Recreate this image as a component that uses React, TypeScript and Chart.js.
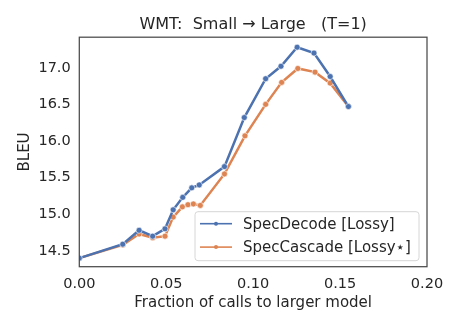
import React, { useEffect, useRef } from "react";
import { Chart, registerables } from "chart.js";

Chart.register(...registerables);

const TITLE = "WMT:  Small \u2192 Large   (T=1)";
const X_LABEL = "Fraction of calls to larger model";
const Y_LABEL = "BLEU";

const SERIES_NAMES = ["SpecDecode [Lossy]", "SpecCascade [Lossy\u22c6]"];

const decodeX = [0, 0.025, 0.0344, 0.0422, 0.0493, 0.054, 0.0595, 0.0647, 0.069, 0.0835, 0.0949, 0.1072, 0.116, 0.1253, 0.135, 0.1443, 0.1548];
const decodeY = [14.4, 14.59, 14.78, 14.7, 14.8, 15.06, 15.23, 15.36, 15.4, 15.65, 16.32, 16.85, 17.02, 17.28, 17.2, 16.88, 16.47];

const cascadeX = [0, 0.025, 0.0344, 0.0422, 0.0493, 0.054, 0.0593, 0.0625, 0.0656, 0.0696, 0.0835, 0.0953, 0.1072, 0.1164, 0.1257, 0.1356, 0.1443, 0.1548];
const cascadeY = [14.4, 14.58, 14.73, 14.68, 14.7, 14.96, 15.1, 15.13, 15.14, 15.12, 15.55, 16.07, 16.5, 16.8, 16.99, 16.94, 16.79, 16.47];

const xTicks = [0, 0.05, 0.1, 0.15, 0.2];
const yTicks = [14.5, 15.0, 15.5, 16.0, 16.5, 17.0];

const COLORS = ["#4C72B0", "#DD8452"];
const FONT = "DejaVu Sans";
const TEXT = "#262626";

const framePlugin = {
  id: "frame",
  afterDatasetsDraw(chart: any) {
    const { ctx, chartArea: a } = chart;
    ctx.save();
    ctx.strokeStyle = "#4a4a4a";
    ctx.lineWidth = 1.25;
    ctx.strokeRect(a.left, a.top, a.right - a.left, a.bottom - a.top);
    ctx.restore();
  },
};

const legendPlugin = {
  id: "insideLegend",
  afterDraw(chart: any) {
    const { ctx, chartArea: a } = chart;
    const boxRight = a.right - 8;
    const boxBottom = a.bottom - 6;
    const boxW = 224;
    const boxH = 49;
    const x0 = boxRight - boxW;
    const y0 = boxBottom - boxH;
    ctx.save();
    ctx.beginPath();
    const r = 3;
    ctx.moveTo(x0 + r, y0);
    ctx.arcTo(x0 + boxW, y0, x0 + boxW, y0 + boxH, r);
    ctx.arcTo(x0 + boxW, y0 + boxH, x0, y0 + boxH, r);
    ctx.arcTo(x0, y0 + boxH, x0, y0, r);
    ctx.arcTo(x0, y0, x0 + boxW, y0, r);
    ctx.closePath();
    ctx.fillStyle = "rgba(255,255,255,0.8)";
    ctx.fill();
    ctx.strokeStyle = "#d6d6d6";
    ctx.lineWidth = 1;
    ctx.stroke();
    ctx.font = `15px '${FONT}'`;
    ctx.textBaseline = "middle";
    ctx.fillStyle = TEXT;
    chart.data.datasets.forEach((ds: any, i: number) => {
      const cy = y0 + 12 + i * 23.4;
      ctx.strokeStyle = ds.borderColor;
      ctx.lineWidth = 1.6;
      ctx.beginPath();
      ctx.moveTo(x0 + 5, cy);
      ctx.lineTo(x0 + 37, cy);
      ctx.stroke();
      ctx.beginPath();
      ctx.fillStyle = ds.borderColor;
      ctx.arc(x0 + 21, cy, 2, 0, Math.PI * 2);
      ctx.fill();
      ctx.fillStyle = TEXT;
      ctx.fillText(ds.label, x0 + 48, cy + 1);
    });
    ctx.restore();
  },
};

export default function App() {
  const ref = useRef<HTMLCanvasElement>(null);
  useEffect(() => {
    const mk = (xs: number[], ys: number[]) => xs.map((x, i) => ({ x, y: ys[i] }));
    const chart = new Chart(ref.current!, {
      type: "line",
      data: {
        datasets: [
          { label: SERIES_NAMES[0], data: mk(decodeX, decodeY), borderColor: COLORS[0], backgroundColor: COLORS[0] },
          { label: SERIES_NAMES[1], data: mk(cascadeX, cascadeY), borderColor: COLORS[1], backgroundColor: COLORS[1] },
        ].map((d) => ({
          ...d,
          borderWidth: 2.5,
          pointRadius: 3,
          pointBorderColor: "#ffffff",
          pointBorderWidth: 0.6,
          pointBackgroundColor: d.borderColor,
          tension: 0,
          fill: false,
        })),
      },
      options: {
        animation: false,
        responsive: false,
        maintainAspectRatio: false,
        layout: { padding: { left: 0, right: 35, top: 0, bottom: 0 } },
        plugins: {
          legend: { display: false },
          tooltip: { enabled: false },
          title: {
            display: true,
            fullSize: false,
            text: TITLE,
            color: TEXT,
            font: { family: FONT, size: 16, weight: "normal" },
            padding: { top: 15, bottom: 3 },
          },
        },
        scales: {
          x: {
            type: "linear",
            min: 0,
            max: 0.2,
            grid: { display: false, drawTicks: false },
            border: { display: false },
            afterBuildTicks: (s: any) => {
              s.ticks = xTicks.map((v) => ({ value: v }));
            },
            afterFit: (s: any) => {
              s.height = 63.3;
            },
            ticks: {
              color: TEXT,
              padding: 9,
              font: { family: FONT, size: 14.5 },
              callback: (v: any) => Number(v).toFixed(2),
            },
            title: {
              display: true,
              text: X_LABEL,
              color: TEXT,
              font: { family: FONT, size: 15 },
              padding: { top: 0, bottom: 18 },
            },
          },
          y: {
            type: "linear",
            min: 14.283,
            max: 17.417,
            grid: { display: false, drawTicks: false },
            border: { display: false },
            afterBuildTicks: (s: any) => {
              s.ticks = yTicks.map((v) => ({ value: v }));
            },
            afterFit: (s: any) => {
              s.width = 79.3;
            },
            ticks: {
              color: TEXT,
              padding: 8.6,
              font: { family: FONT, size: 14.5 },
              callback: (v: any) => Number(v).toFixed(1),
            },
            title: {
              display: true,
              text: Y_LABEL,
              color: TEXT,
              font: { family: FONT, size: 15 },
              padding: { top: 16, bottom: 0 },
            },
          },
        },
      },
      plugins: [framePlugin, legendPlugin],
    });
    return () => chart.destroy();
  }, []);
  return (
    <div style={{ position: "fixed", left: 0, top: 0, width: 462, height: 330, background: "#fff" }}>
      <canvas ref={ref} width={462} height={330} style={{ width: 462, height: 330 }} />
    </div>
  );
}
